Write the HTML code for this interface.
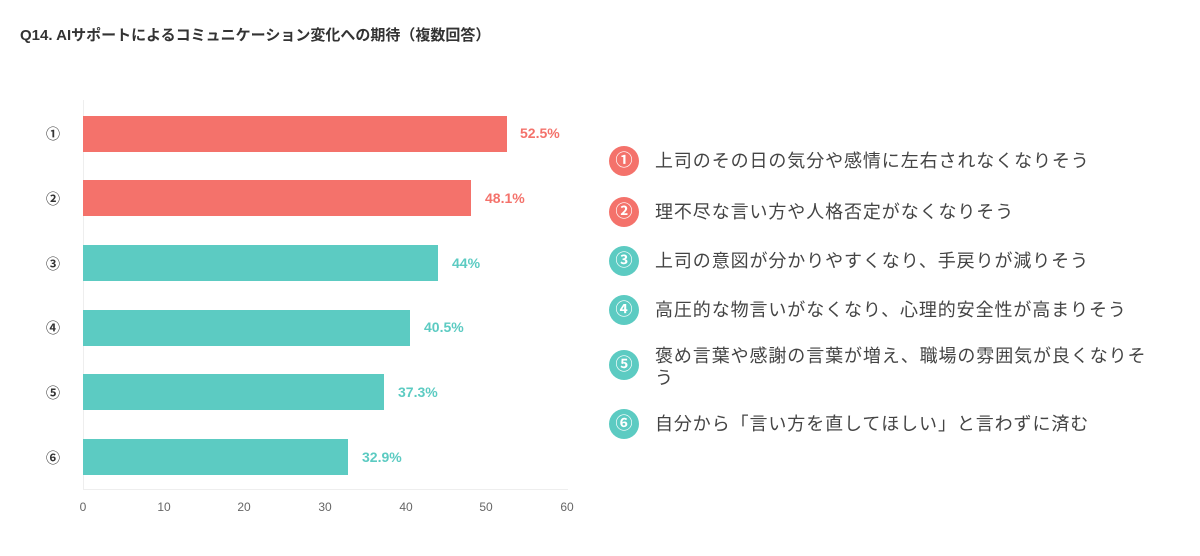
<!DOCTYPE html>
<html><head><meta charset="utf-8"><style>
body{margin:0;width:1200px;height:556px;background:#fff;font-family:"Liberation Sans","Noto Sans CJK JP",sans-serif;position:relative;overflow:hidden}
.a{position:absolute}
.bar{position:absolute;left:83px;height:36px}
.r{background:#f4726b}.g{background:#5ccbc2}
.v{position:absolute;font-size:14px;font-weight:bold}
.n{position:absolute;left:46px;font-size:14px;color:#333;font-weight:bold}
.t{position:absolute;top:500px;font-size:12px;color:#666;width:30px;text-align:center}
.c{position:absolute;left:609px;width:30px;height:30px;border-radius:50%;color:#fff;font-size:17px;text-align:center;line-height:30px;font-weight:bold}
.l{position:absolute;left:655px;font-size:18px;letter-spacing:0.9px;color:#444;line-height:22px;width:500px}
</style></head><body>
<div class="a" style="left:20px;top:24px;font-size:15px;font-weight:bold;color:#333">Q14. AIサポートによるコミュニケーション変化への期待（複数回答）</div>
<div class="a" style="left:83px;top:100px;width:1px;height:390px;background:#eee"></div>
<div class="a" style="left:83px;top:489px;width:485px;height:1px;background:#eee"></div>

<div class="n" style="top:124px">①</div><div class="bar r" style="top:116px;width:424px"></div><div class="v" style="left:520px;top:125px;color:#f4726b">52.5%</div>
<div class="n" style="top:189px">②</div><div class="bar r" style="top:180px;width:388px"></div><div class="v" style="left:485px;top:190px;color:#f4726b">48.1%</div>
<div class="n" style="top:254px">③</div><div class="bar g" style="top:245px;width:355px"></div><div class="v" style="left:452px;top:255px;color:#5ccbc2">44%</div>
<div class="n" style="top:318px">④</div><div class="bar g" style="top:310px;width:327px"></div><div class="v" style="left:424px;top:319px;color:#5ccbc2">40.5%</div>
<div class="n" style="top:383px">⑤</div><div class="bar g" style="top:374px;width:301px"></div><div class="v" style="left:398px;top:384px;color:#5ccbc2">37.3%</div>
<div class="n" style="top:448px">⑥</div><div class="bar g" style="top:439px;width:265px"></div><div class="v" style="left:362px;top:449px;color:#5ccbc2">32.9%</div>

<div class="t" style="left:68px">0</div><div class="t" style="left:149px">10</div><div class="t" style="left:229px">20</div><div class="t" style="left:310px">30</div><div class="t" style="left:391px">40</div><div class="t" style="left:471px">50</div><div class="t" style="left:552px">60</div>

<div class="c" style="top:146px;background:#f4726b">①</div><div class="l" style="top:150px">上司のその日の気分や感情に左右されなくなりそう</div>
<div class="c" style="top:197px;background:#f4726b">②</div><div class="l" style="top:201px">理不尽な言い方や人格否定がなくなりそう</div>
<div class="c" style="top:246px;background:#5ccbc2">③</div><div class="l" style="top:250px">上司の意図が分かりやすくなり、手戻りが減りそう</div>
<div class="c" style="top:295px;background:#5ccbc2">④</div><div class="l" style="top:299px">高圧的な物言いがなくなり、心理的安全性が高まりそう</div>
<div class="c" style="top:350px;background:#5ccbc2">⑤</div><div class="l" style="top:345px">褒め言葉や感謝の言葉が増え、職場の雰囲気が良くなりそ<br>う</div>
<div class="c" style="top:409px;background:#5ccbc2">⑥</div><div class="l" style="top:413px">自分から「言い方を直してほしい」と言わずに済む</div>
</body></html>
